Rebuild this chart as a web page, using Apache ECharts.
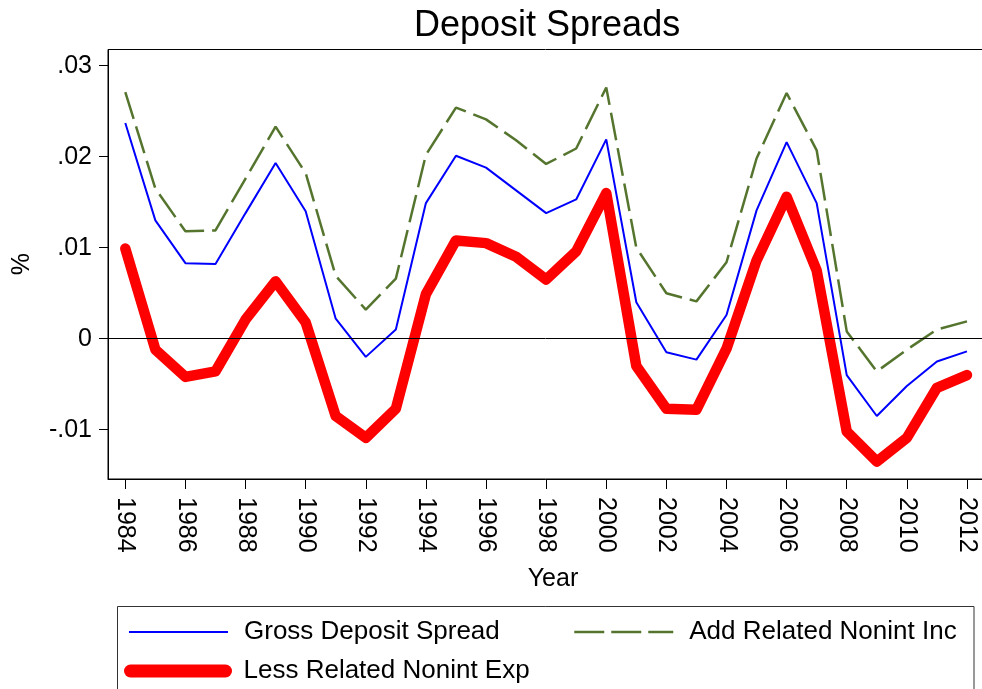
<!DOCTYPE html>
<html>
<head>
<meta charset="utf-8">
<script src="https://cdn.jsdelivr.net/npm/echarts@6/dist/echarts.min.js"></script>
<style>
html,body{margin:0;padding:0;background:#fff;}
#chart{width:982px;height:689px;}
</style>
</head>
<body>
<div id="chart"></div>
<script>
var years = [1984,1985,1986,1987,1988,1989,1990,1991,1992,1993,1994,1995,1996,1997,1998,1999,2000,2001,2002,2003,2004,2005,2006,2007,2008,2009,2010,2011,2012];
var grossSpread = [0.0237,0.0130,0.0083,0.0082,0.0138,0.0193,0.0140,0.0022,-0.0020,0.0010,0.0149,0.0201,0.0188,0.0163,0.0138,0.0153,0.0219,0.0040,-0.0015,-0.0023,0.0026,0.0141,0.0216,0.0149,-0.0040,-0.0085,-0.0052,-0.0025,-0.0014];
var addNonintInc = [0.0271,0.0165,0.0118,0.0119,0.0176,0.0233,0.0182,0.0069,0.0032,0.0066,0.0202,0.0254,0.0241,0.0218,0.0192,0.0209,0.0276,0.0100,0.0050,0.0041,0.0084,0.0198,0.0270,0.0207,0.0008,-0.0036,-0.0012,0.0010,0.0019];
var lessNonintExp = [0.0099,-0.0012,-0.0042,-0.0036,0.0021,0.0063,0.0018,-0.0085,-0.0109,-0.0077,0.0049,0.0108,0.0105,0.0090,0.0065,0.0096,0.0160,-0.0030,-0.0077,-0.0078,-0.0011,0.0086,0.0156,0.0075,-0.0102,-0.0135,-0.0109,-0.0054,-0.0040];
var xTickYears = [1984,1986,1988,1990,1992,1994,1996,1998,2000,2002,2004,2006,2008,2010,2012];
var yTicks = [-0.01,0,0.01,0.02,0.03];
var names = ['Gross Deposit Spread','Add Related Nonint Inc','Less Related Nonint Exp'];

function pairs(vals){ return years.map(function(y,i){ return [y, vals[i]]; }); }
var FONT = 'Liberation Sans, Arial, sans-serif';
var legendText = {fontFamily:FONT, fontSize:26, color:'#000', lineHeight:26};

var chart = echarts.init(document.getElementById('chart'), null, {renderer:'canvas'});
chart.setOption({
  backgroundColor:'#fff',
  animation:false,
  textStyle:{fontFamily:FONT},
  title:{
    text:'Deposit Spreads', left:414, top:8, padding:0,
    textStyle:{fontFamily:FONT, fontSize:36, fontWeight:'normal', color:'#000'}
  },
  grid:{left:108, top:49.5, width:890, height:429.5, outerBoundsMode:'none', containLabel:false,
    show:true, borderColor:'#000', borderWidth:1, backgroundColor:'#fff'},
  xAxis:{
    type:'value', min:1983.4245, max:2013.032,
    name:'Year', nameLocation:'middle', nameGap:88,
    nameTextStyle:{fontFamily:FONT, fontSize:25, color:'#000'},
    axisLine:{show:true, onZero:false, lineStyle:{color:'#000', width:1}},
    axisTick:{show:true, length:10, customValues:xTickYears, lineStyle:{color:'#000'}},
    axisLabel:{customValues:xTickYears, rotate:-90, margin:18, fontFamily:FONT, fontSize:25, color:'#000',
      formatter:function(v){return String(v);}},
    splitLine:{show:false}
  },
  yAxis:{
    type:'value', min:-0.01542, max:0.03178,
    name:'%', nameLocation:'middle', nameGap:73, nameRotate:90,
    nameTextStyle:{fontFamily:FONT, fontSize:25, color:'#000'},
    axisLine:{show:true, onZero:false, lineStyle:{color:'#000', width:1}},
    axisTick:{show:true, length:9, customValues:yTicks, lineStyle:{color:'#000'}},
    axisLabel:{customValues:yTicks, margin:16, fontFamily:FONT, fontSize:25, color:'#000',
      formatter:function(v){ if (Math.abs(v) < 1e-9) return '0'; return v.toFixed(2).replace('0.', '.'); }},
    splitLine:{show:false}
  },
  legend:[
    {data:[names[0]], left:128, top:619, padding:0, itemWidth:99, itemHeight:16,
     itemStyle:{opacity:0}, lineStyle:{width:2},
     textStyle:Object.assign({padding:[0,0,0,11]}, legendText)},
    {data:[names[1]], left:573, top:619, padding:0, itemWidth:99, itemHeight:16,
     itemStyle:{opacity:0}, lineStyle:{width:2.5, type:[30,7]},
     textStyle:Object.assign({padding:[0,0,0,11]}, legendText)},
    {data:[names[2]], left:124, top:658, padding:0, itemWidth:95, itemHeight:16,
     itemStyle:{opacity:0}, lineStyle:{width:13, cap:'round'},
     textStyle:Object.assign({padding:[0,0,0,13]}, legendText)}
  ],
  graphic:[
    {type:'rect', shape:{x:117.5, y:606.5, width:856.5, height:100}, style:{fill:'none', stroke:'#333', lineWidth:1}, silent:true, z:-1}
  ],
  series:[
    {name:names[0], type:'line', data:pairs(grossSpread), symbol:'none', color:'#0000ff',
     lineStyle:{color:'#0000ff', width:2},
     markLine:{silent:true, symbol:'none', label:{show:false}, lineStyle:{color:'#000', width:1, type:'solid'},
       data:[{yAxis:0}]}, z:3},
    {name:names[1], type:'line', data:pairs(addNonintInc), symbol:'none', color:'#55752f',
     lineStyle:{color:'#55752f', width:2.5, type:[28,8]}, z:2},
    {name:names[2], type:'line', data:pairs(lessNonintExp), symbol:'none', color:'#ff0000',
     lineStyle:{color:'#ff0000', width:10.5, cap:'round', join:'round'}, z:4}
  ]
});
</script>
</body>
</html>
